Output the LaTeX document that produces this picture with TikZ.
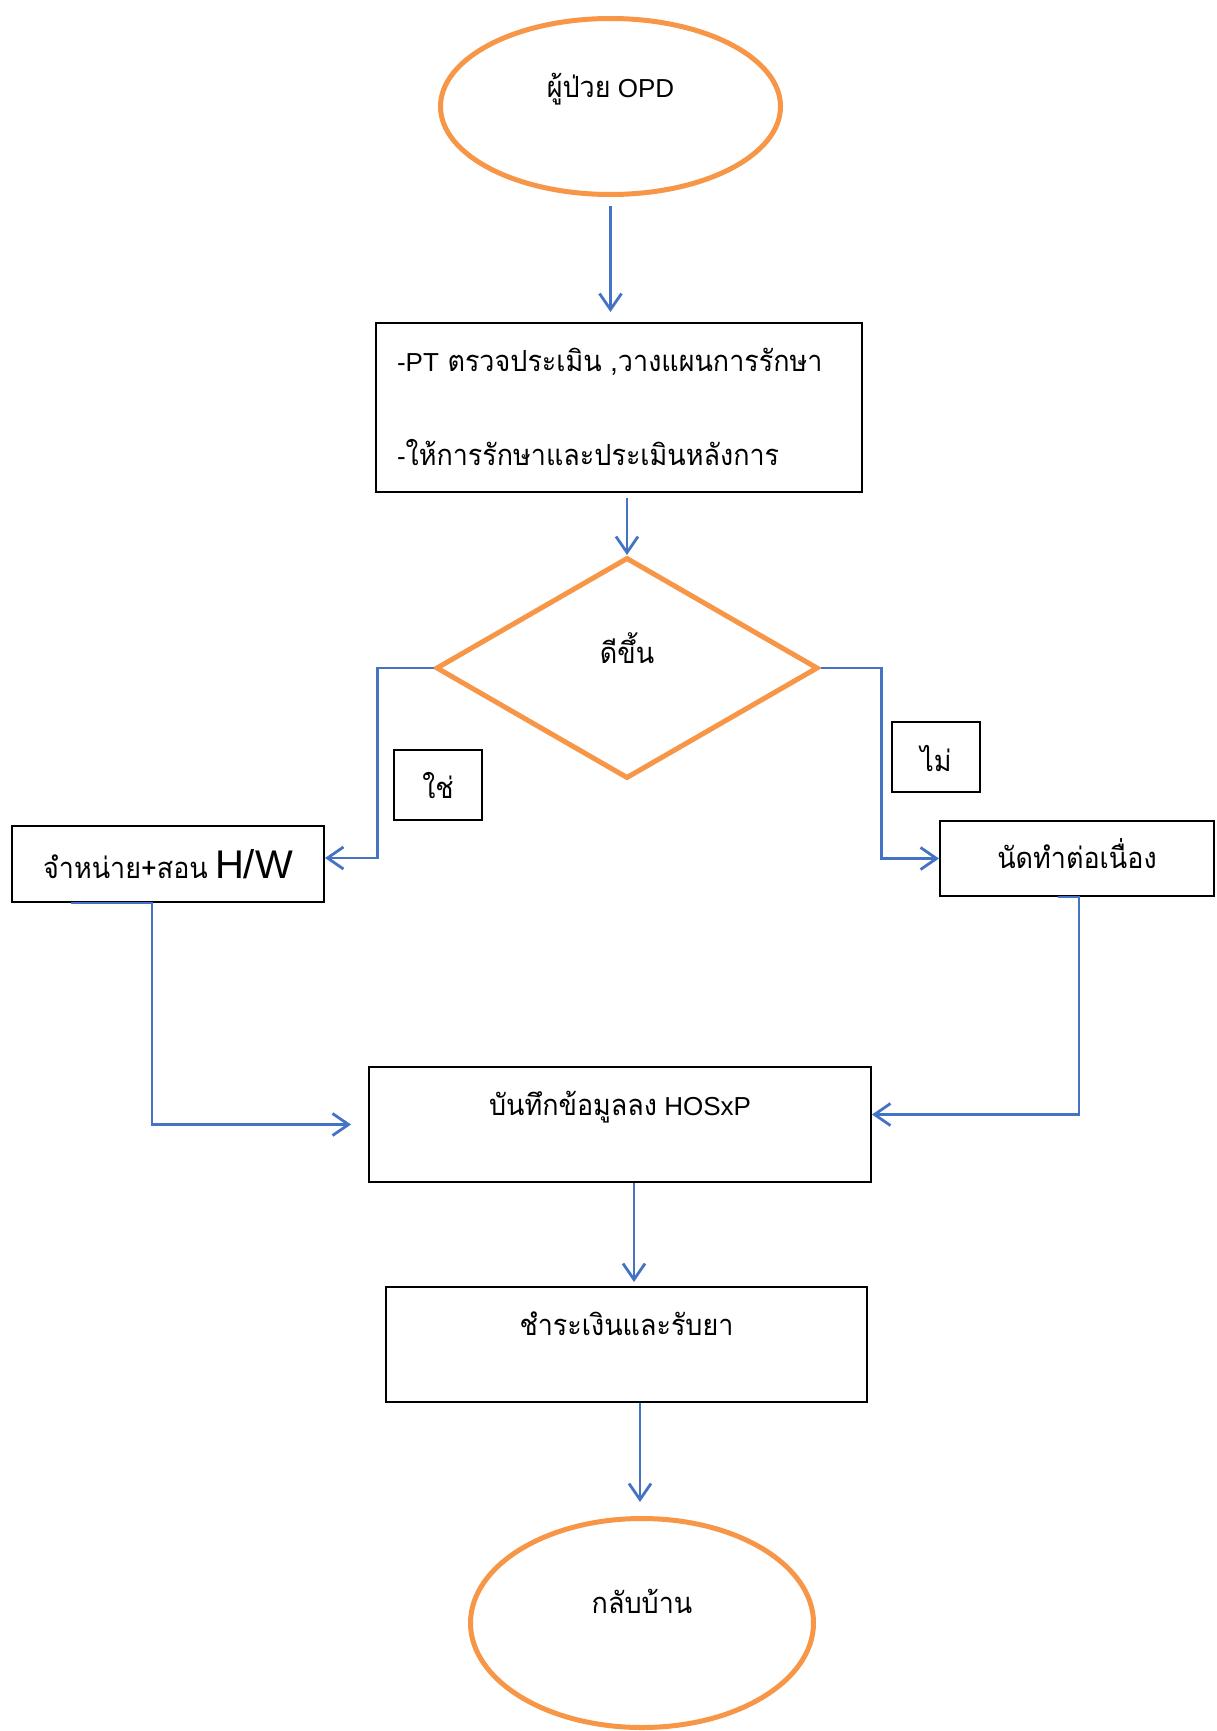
\documentclass[tikz,border=0pt]{standalone}
\usepackage{fontspec}
\setmainfont{Liberation Sans}
\newfontfamily\thaifont[Script=Thai, Scale=1.12, FakeStretch=0.925]{Loma}
\usetikzlibrary{arrows.meta, shapes.geometric, calc}
\definecolor{flowblue}{RGB}{68,114,196}
\definecolor{termorange}{RGB}{247,150,70}

\begin{document}
\begin{tikzpicture}[x=1pt, y=-1pt,
    every node/.style={font=\fontsize{26}{31}\selectfont, inner sep=0pt},
    term/.style={ellipse, draw=termorange, line width=5pt},
    decide/.style={diamond, draw=termorange, line width=5pt},
    stepbox/.style={rectangle, draw=black, line width=2pt},
    flow/.style={draw=flowblue, line width=2.8pt, -{Straight Barb[length=16pt, width=22pt]}}]
  \useasboundingbox (0, 0) rectangle (1216, 1731);

  % start and end
  \node[term, minimum width=340pt, minimum height=176pt, text height=20pt, text depth=37pt] (patient) at (610.5, 106.5) {{\thaifont ผู้ป่วย} OPD};
  \node[term, minimum width=343pt, minimum height=209pt, text height=20pt, text depth=40pt] (home) at (642, 1623) {\thaifont กลับบ้าน};

  % boxes
  \node[stepbox, text width=444pt, inner xsep=21pt, text height=48pt, text depth=121pt, align=left, font=\fontsize{26}{94}\selectfont] (assess) at (619, 407.5)
    {-PT {\thaifont ตรวจประเมิน ,วางแผนการรักษา}\\-{\thaifont ให้การรักษาและประเมินหลังการ}};
  \node[decide, minimum width=382pt, minimum height=221pt, text height=20pt, text depth=30pt] (better) at (627, 668) {\thaifont ดีขึ้น};
  \node[stepbox, minimum width=88pt, text height=48pt, text depth=22pt] (yes) at (438, 785) {\thaifont ใช่};
  \node[stepbox, minimum width=88pt, text height=49pt, text depth=21pt] (no) at (936, 757) {\thaifont ไม่};
  \node[stepbox, minimum width=312pt, text height=52pt, text depth=24pt] (discharge) at (168, 864) {{\thaifont จำหน่าย+สอน} {\fontsize{40}{44}\selectfont H/W}};
  \node[stepbox, minimum width=274pt, text height=47pt, text depth=28pt] (followup) at (1077, 858.5) {\thaifont นัดทำต่อเนื่อง};
  \node[stepbox, minimum width=502pt, text height=48pt, text depth=67pt] (record) at (620, 1124.5) {{\thaifont บันทึกข้อมูลลง} HOSxP};
  \node[stepbox, minimum width=481pt, text height=48pt, text depth=67pt] (pay) at (626.5, 1344.5) {\thaifont ชำระเงินและรับยา};

  % connectors
  \draw[flow, shorten <=9pt, shorten >=10pt] (patient.south) -- (patient.south |- assess.north);
  \draw[flow, shorten <=5pt] (assess.south -| better.north) -- (better.north);
  \draw[flow] (better.west) -- ++(-56, 0) |- ([yshift=6pt]discharge.east);
  \draw[flow] (better.east) -- ++(61, 0) |- (followup.west);
  \draw[flow, shorten >=17pt] ([xshift=60pt]discharge.south west) -| ([xshift=-216pt]record.west) -- (record.west);
  \draw[flow] ([xshift=-157pt]followup.south east) -| ([xshift=207pt, yshift=10pt]record.east) -- ([yshift=10pt]record.east);
  \draw[flow, shorten >=4pt] ([xshift=14pt]record.south) -- ([xshift=14pt]record.south |- pay.north);
  \draw[flow, shorten >=14pt] ([xshift=13.5pt]pay.south) -- ([xshift=13.5pt]pay.south |- home.north);
\end{tikzpicture}
\end{document}
